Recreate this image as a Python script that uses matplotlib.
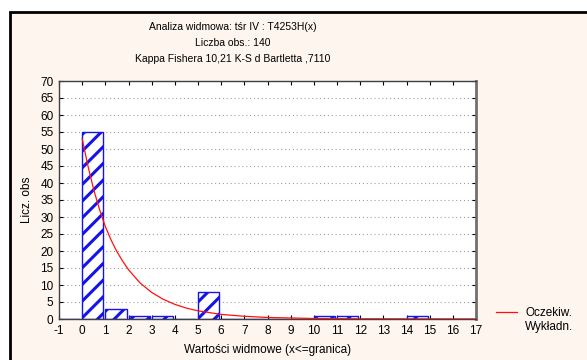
import numpy as np
from matplotlib import pyplot as plt
from matplotlib.patches import Rectangle
from matplotlib.lines import Line2D

plt.rcParams['font.family'] = ['Liberation Sans', 'DejaVu Sans']
plt.rcParams['axes.unicode_minus'] = False
plt.rcParams['hatch.color'] = '#2424ee'
plt.rcParams['hatch.linewidth'] = 2.2

# histogram bins (lower edge) and counts
bin_left = [-1, 0, 1, 2, 3, 4, 5, 6, 7, 8, 9, 10, 11, 12, 13, 14, 15, 16]
counts = [0, 55, 3, 1, 1, 0, 8, 0, 0, 0, 0, 1, 1, 0, 0, 1, 0, 0]

# expected exponential curve
exp_x = [0, 0.25, 0.5, 0.75, 1, 1.25, 1.5, 1.75, 2, 2.5, 3, 3.5, 4, 4.5, 5, 6, 7, 8, 10, 12, 17]
exp_y = [53, 45, 38, 32.2, 27.2, 23.2, 19.8, 17.0, 14.5, 10.6, 7.8, 5.8, 4.3, 3.2, 2.4, 1.35, 0.8, 0.45, 0.15, 0.05, 0.0]

title_lines = ["Analiza widmowa: tśr IV : T4253H(x)",
               "Liczba obs.: 140",
               "Kappa Fishera 10,21 K-S d Bartletta ,7110"]

W, H = 587, 360
fig = plt.figure(figsize=(W/100, H/100), dpi=100)
fig.patch.set_facecolor('white')

# cream panel with black frame, running off the right and bottom edges
fig.patches.append(Rectangle((10/W, -0.1), 2.0, 1 - 12/H + 0.1, transform=fig.transFigure,
                             fc='#fdf5ee', ec='black', lw=2, zorder=-10))

ax = fig.add_axes([59/W, (H-319)/H, (476-59)/W, (319-81)/H])
ax.set_facecolor('white')

ax.bar(bin_left, counts, width=0.92, align='edge', color='white', edgecolor='#1414e6',
       hatch='//', linewidth=1.0, zorder=2)
ax.plot(exp_x, exp_y, color='#ff1010', lw=0.9, zorder=3)

ax.set_xlim(-1, 17)
ax.set_ylim(0, 70)
ax.set_xticks(range(-1, 18))
ax.set_yticks(range(0, 71, 5))
ax.tick_params(axis='both', direction='in', length=3, width=0.8, labelsize=8.5,
               top=True, right=True, pad=4)
ax.yaxis.grid(True, linestyle=(0, (1, 2.5)), color='#a0a0a0', lw=0.8, zorder=0)
ax.set_axisbelow(True)
for s in ['left', 'bottom', 'top']:
    ax.spines[s].set_color('#404040')
    ax.spines[s].set_linewidth(1.0)
ax.spines['right'].set_color('#707070')
ax.spines['right'].set_linewidth(2.0)

ax.set_xlabel('Wartości widmowe (x<=granica)', fontsize=8.5, labelpad=5)
ax.set_ylabel('Licz. obs', fontsize=8.5, labelpad=5)

for i, line in enumerate(title_lines):
    fig.text(233/W, 1 - (27 + 16*i)/H, line, ha='center', va='center', fontsize=7.5)

# legend
fig.lines.append(Line2D([496/W, 517/W], [1 - 312/H, 1 - 312/H], transform=fig.transFigure,
                        color='#ff1010', lw=0.9))
fig.text(525/W, 1 - 313/H, 'Oczekiw.', ha='left', va='center', fontsize=8.5)
fig.text(525/W, 1 - 327/H, 'Wykładn.', ha='left', va='center', fontsize=8.5)

fig.savefig('out.png', dpi=100)
